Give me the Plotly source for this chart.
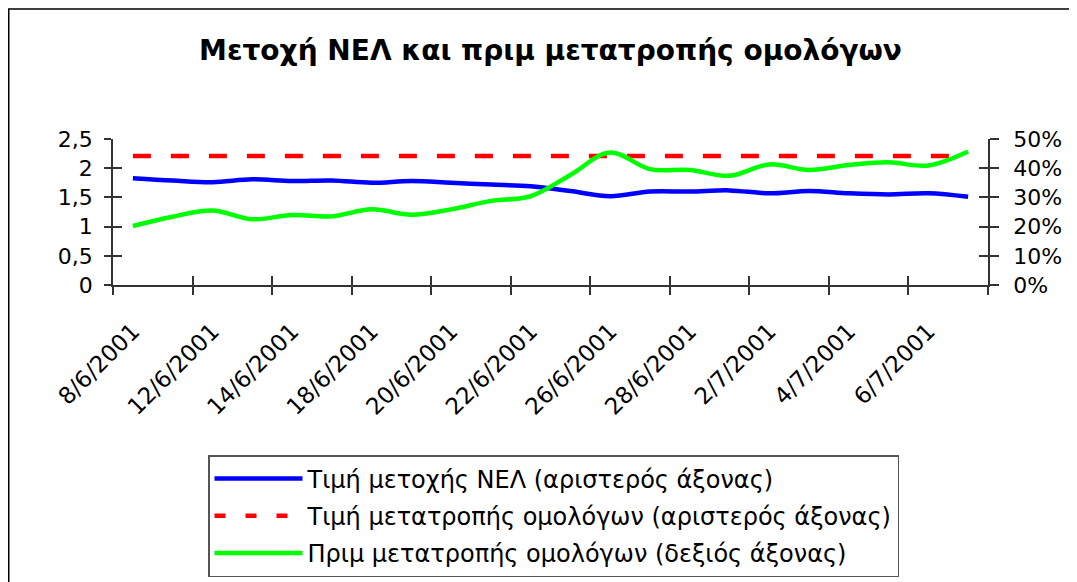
import numpy as np
import plotly.graph_objects as go

# ---- data ----
dates = ["8/6/2001", "11/6/2001", "12/6/2001", "13/6/2001", "14/6/2001", "15/6/2001",
         "18/6/2001", "19/6/2001", "20/6/2001", "21/6/2001", "22/6/2001", "25/6/2001",
         "26/6/2001", "27/6/2001", "28/6/2001", "29/6/2001", "2/7/2001", "3/7/2001",
         "4/7/2001", "5/7/2001", "6/7/2001", "9/7/2001"]
share_price = [1.83, 1.79, 1.76, 1.81, 1.78, 1.79, 1.75, 1.78, 1.75, 1.72, 1.69,
               1.61, 1.52, 1.60, 1.60, 1.62, 1.57, 1.61, 1.57, 1.55, 1.57, 1.51]
conversion_price = [2.21] * 22
premium = [0.202, 0.234, 0.255, 0.225, 0.240, 0.235, 0.259, 0.241, 0.259, 0.288, 0.304,
           0.377, 0.454, 0.397, 0.394, 0.374, 0.413, 0.394, 0.411, 0.420, 0.409, 0.457]

names = ["Τιμή μετοχής ΝΕΛ (αριστερός άξονας)",
         "Τιμή μετατροπής ομολόγων (αριστερός άξονας)",
         "Πριμ μετατροπής ομολόγων (δεξιός άξονας)"]
title = "Μετοχή ΝΕΛ και πριμ μετατροπής ομολόγων"

FONT = "DejaVu Sans, Arial, sans-serif"
OFF = 8                      # page body margin
W, H = 1077 - OFF, 582 - OFF
L, R, T, B = 113 - OFF, 988 - OFF, 139 - OFF, 285 - OFF   # plot area (figure px)
PW, PH = R - L, B - T

fig = go.Figure()
fig.add_trace(go.Scatter(x=dates, y=share_price, name=names[0], mode="lines",
                         line=dict(color="#0000FF", width=4.5, shape="spline", smoothing=1),
                         legendgroup="a"))
fig.add_trace(go.Scatter(x=dates, y=conversion_price, name=names[1], mode="lines",
                         line=dict(color="#FF0000", width=4.5, dash="18px,20px"),
                         legendgroup="b", showlegend=False))
# legend-only entry for the dashed series (shorter dashes, as in the reference legend)
fig.add_trace(go.Scatter(x=[None], y=[None], name=names[1], mode="lines",
                         line=dict(color="#FF0000", width=4.5, dash="11px,20px"),
                         legendgroup="b", hoverinfo="skip"))
fig.add_trace(go.Scatter(x=dates, y=premium, name=names[2], mode="lines", yaxis="y2",
                         line=dict(color="#00FF00", width=4.5, shape="spline", smoothing=1),
                         legendgroup="c"))
# empty helpers so the tick-only overlay axes are drawn
for xa, ya in [("x2", "y"), ("x3", "y"), ("x", "y3"), ("x", "y4")]:
    fig.add_trace(go.Scatter(x=[], y=[], xaxis=xa, yaxis=ya, showlegend=False, hoverinfo="skip"))

n = len(dates)
bounds = list(np.arange(-0.5, n, 2))
tickc = "#333333"

fig.update_layout(
    width=W, height=H,
    margin=dict(l=L, r=W - R, t=T, b=H - B, autoexpand=False),
    paper_bgcolor="white", plot_bgcolor="white",
    separators=", ",
    font=dict(family=FONT, size=22, color="black"),
    title=dict(text="<b>" + title + "</b>", x=0.5, xref="paper", xanchor="center",
               y=1 - (50 - OFF) / H, yref="container", yanchor="middle",
               font=dict(family=FONT, size=28, color="black")),
    xaxis=dict(type="category", range=[-0.5, n - 0.5], tickmode="array", tickvals=dates[::2],
               ticktext=dates[::2], tickangle=-45, ticks="", showline=True, linecolor=tickc,
               linewidth=1.5, showgrid=False, zeroline=False, ticklabelstandoff=22,
               tickfont=dict(size=23), automargin=False),
    xaxis2=dict(overlaying="x", anchor="y", side="bottom", range=[-0.5, n - 0.5],
                tickmode="array", tickvals=bounds, ticks="outside", ticklen=9, tickwidth=1.5,
                tickcolor=tickc, showticklabels=False, showline=False, showgrid=False,
                zeroline=False, automargin=False),
    xaxis3=dict(overlaying="x", anchor="y", side="bottom", range=[-0.5, n - 0.5],
                tickmode="array", tickvals=bounds, ticks="inside", ticklen=9, tickwidth=1.5,
                tickcolor=tickc, showticklabels=False, showline=False, showgrid=False,
                zeroline=False, automargin=False),
    yaxis=dict(range=[0, 2.5], dtick=0.5, tick0=0, ticks="outside", ticklen=7, tickwidth=1.5,
               tickcolor=tickc, showline=True, linecolor=tickc, linewidth=1.5,
               showgrid=False, zeroline=False, ticklabelstandoff=7, automargin=False),
    yaxis3=dict(overlaying="y", anchor="x", side="left", range=[0, 2.5], dtick=0.5, tick0=0,
                ticks="inside", ticklen=9, tickwidth=1.5, tickcolor=tickc,
                showticklabels=False, showline=False, showgrid=False, zeroline=False,
                automargin=False),
    yaxis2=dict(overlaying="y", side="right", anchor="x", range=[0, 0.5], dtick=0.1, tick0=0,
                tickformat=".0%", ticks="outside", ticklen=9, tickwidth=1.5, tickcolor=tickc,
                showline=True, linecolor=tickc, linewidth=1.5, showgrid=False,
                zeroline=False, ticklabelstandoff=10, automargin=False),
    yaxis4=dict(overlaying="y", side="right", anchor="x", range=[0, 0.5], dtick=0.1,
                ticks="inside", ticklen=9, tickwidth=1.5, tickcolor=tickc,
                showticklabels=False, showline=False, showgrid=False, zeroline=False,
                automargin=False),
    legend=dict(x=(208 - OFF - L) / PW, xanchor="left", y=1 - (455 - OFF - T) / PH,
                yanchor="top", bordercolor="#555555", borderwidth=1.5, bgcolor="white",
                font=dict(family=FONT, size=24), itemwidth=88, tracegroupgap=3,
                traceorder="grouped"),
    showlegend=True,
)

# outer chart frame
fig.add_shape(type="rect", xref="paper", yref="paper",
              x0=(0.75 - L) / PW, x1=(1064 - L) / PW,
              y0=(B - 590) / PH, y1=1 + (T - 1) / PH,
              line=dict(color="black", width=1.5), fillcolor="rgba(0,0,0,0)", layer="below")

fig.write_html("out.html")
